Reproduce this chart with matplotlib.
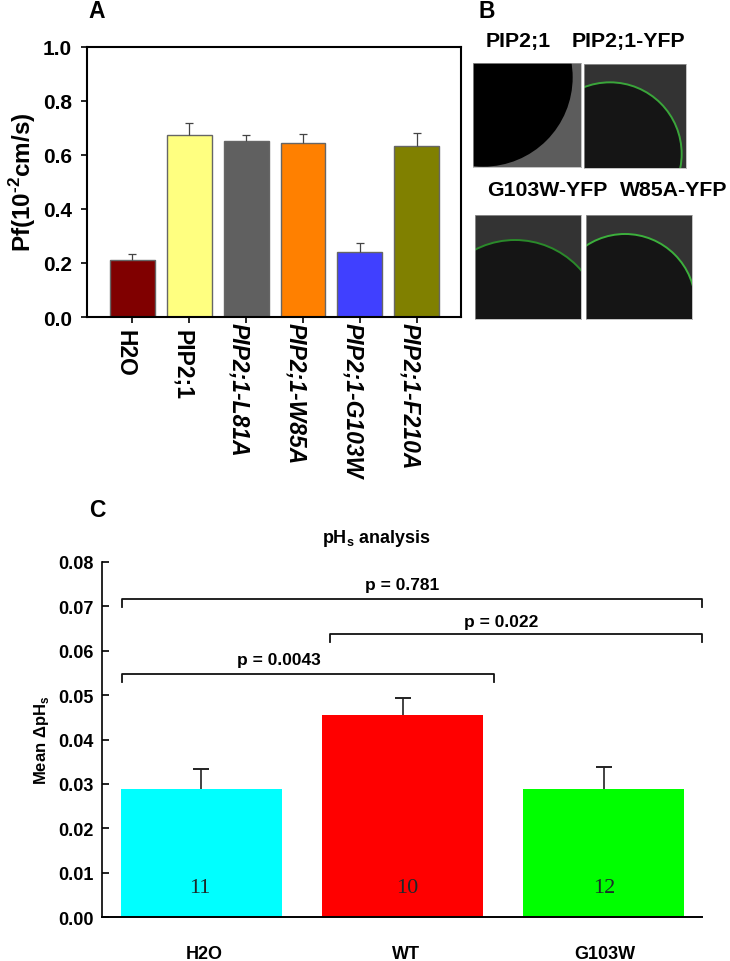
# Panels A, B and C: water permeability bars, YFP micrographs, pHs analysis bars
import matplotlib
matplotlib.use("Agg")
import matplotlib.pyplot as plt
from matplotlib.patches import Circle
from matplotlib.transforms import ScaledTranslation

plt.rcParams['font.family'] = ['Liberation Sans', 'DejaVu Sans']
plt.rcParams['font.weight'] = 'bold'
plt.rcParams['axes.labelweight'] = 'bold'
plt.rcParams['axes.titleweight'] = 'bold'
plt.rcParams['mathtext.fontset'] = 'custom'
plt.rcParams['mathtext.rm'] = 'Liberation Sans:bold'
plt.rcParams['mathtext.bf'] = 'Liberation Sans:bold'

W, H = 730, 962

# Panel A data
a_labels = ["H2O", "PIP2;1", "PIP2;1-L81A", "PIP2;1-W85A", "PIP2;1-G103W", "PIP2;1-F210A"]
a_styles = ["normal", "normal", "italic", "italic", "italic", "italic"]
a_values = [0.212, 0.674, 0.649, 0.643, 0.240, 0.633]
a_errors = [0.021, 0.043, 0.023, 0.032, 0.033, 0.046]
a_colors = ["#800000", "#ffff80", "#606060", "#ff8000", "#4040ff", "#808000"]
a_ticks = [0.0, 0.2, 0.4, 0.6, 0.8, 1.0]

# Panel C data
c_labels = ["H2O", "WT", "G103W"]
c_values = [0.0289, 0.0455, 0.0289]
c_errors = [0.0045, 0.0039, 0.0049]
c_counts = ["11", "10", "12"]
c_colors = ["#00ffff", "#ff0000", "#00ff00"]
c_ticks = [0.00, 0.01, 0.02, 0.03, 0.04, 0.05, 0.06, 0.07, 0.08]

# p value brackets, x in bar positions
p_texts = ["p = 0.781", "p = 0.022", "p = 0.0043"]
p_text_x = [0.9975, 1.49, 0.386]
p_text_y = [0.0748, 0.0665, 0.0579]
p_left = [-0.396, 0.637, -0.396]
p_right = [2.49, 2.49, 1.455]
p_y = [0.0716, 0.0637, 0.0547]


def px_axes(left, top, right, bottom):
    return fig.add_axes([left / W, 1 - bottom / H, (right - left) / W, (bottom - top) / H])


def upper_only(container):
    # errorbar draws a cap at the bar top as well, the source has none
    container.lines[1][0].set_visible(False)


def nudge(label, dx, dy):
    # move a tick label by some pixels
    label.set_transform(label.get_transform() + ScaledTranslation(dx / 100, dy / 100, fig.dpi_scale_trans))


fig = plt.figure(figsize=(W / 100, H / 100), dpi=100)

# Panel A
axA = px_axes(87, 47.5, 461, 318)
xs = range(len(a_values))
axA.bar(xs, a_values, width=0.79, color=a_colors, edgecolor="#666666", linewidth=1)
upper_only(axA.errorbar(xs, a_values, yerr=[[0] * 6, a_errors], fmt="none", ecolor="#444444",
                        elinewidth=0.9, capsize=3, capthick=0.9))
axA.set_xlim(-0.796, 5.777)
axA.set_ylim(0, 1)
axA.set_yticks(a_ticks)
axA.set_yticklabels([f"{t:.1f}" for t in a_ticks], fontsize=15)
axA.set_xticks(list(xs))
axA.set_xticklabels(a_labels, rotation=270, fontsize=16.5, va="top", ha="center")
axA.tick_params(axis="both", width=1.2, length=4)
axA.tick_params(axis="y", pad=7)
axA.tick_params(axis="x", pad=3)
for lab, st in zip(axA.get_xticklabels(), a_styles):
    lab.set_fontstyle(st)
    nudge(lab, -7, 5 if st == "italic" else -2)
for s in axA.spines.values():
    s.set_linewidth(1.5)
axA.set_ylabel(r"Pf(10$^{\text{-}2}$cm/s)", fontsize=17.5, labelpad=3)

# Panel B, drawn in zoomed pixel units of the source
b_boxes = [(473.3, 64, 581, 168), (584.3, 65, 686.3, 168.5),
           (475, 216, 581.3, 320), (585.7, 216, 692.3, 320)]
b_circles = [(70, 235, 268), (450, 465, 215), (165, 985, 262), (495, 916, 211)]
b_back = ["#5c5c5c", "#333333", "#333333", "#333333"]
b_fill = ["#000000", "#151515", "#151515", "#151515"]
b_edge = ["none", "#3aa53a", "#2a8a2a", "#3cb03c"]
for box, circ, bg, fc, ec in zip(b_boxes, b_circles, b_back, b_fill, b_edge):
    axB = px_axes(*box)
    axB.set_xlim((box[0] - 460) * 3, (box[2] - 460) * 3)
    axB.set_ylim(box[3] * 3, box[1] * 3)
    axB.set_facecolor(bg)
    axB.add_patch(Circle(circ[:2], circ[2], facecolor=fc, edgecolor=ec, linewidth=1.4))
    axB.set_xticks([])
    axB.set_yticks([])
    for s in axB.spines.values():
        s.set_color("#aaaaaa")
        s.set_linewidth(0.5)

b_titles = ["PIP2;1", "PIP2;1-YFP", "G103W-YFP", "W85A-YFP"]
b_title_x = [518, 628, 547, 674]
b_title_y = [41, 41, 191, 191]
for t, x, y in zip(b_titles, b_title_x, b_title_y):
    fig.text(x / W, 1 - y / H, t, fontsize=15.3, ha="center", va="center")

# Panel letters
for t, x, y in zip("ABC", [97, 487, 97], [12, 11, 511]):
    fig.text(x / W, 1 - y / H, t, fontsize=16.5, ha="center", va="center")

# Panel C
axC = px_axes(102, 562.7, 702, 918.3)
xs = range(len(c_values))
axC.bar(xs, c_values, width=0.8, color=c_colors)
upper_only(axC.errorbar(xs, c_values, yerr=[[0] * 3, c_errors], fmt="none", ecolor="#222222",
                        elinewidth=1.2, capsize=5.5, capthick=1.4))
axC.set_xlim(-0.495, 2.49)
axC.set_ylim(0, 0.08)
axC.set_yticks(c_ticks)
axC.set_yticklabels([f"{t:.2f}" for t in c_ticks], fontsize=13)
axC.set_xticks(list(xs))
axC.set_xticklabels(c_labels, fontsize=13)
axC.tick_params(axis="y", direction="in", width=1.2, length=5, pad=6)
axC.tick_params(axis="x", length=0, pad=20)
for lab, dx in zip(axC.get_xticklabels(), [3, 4, 1]):
    nudge(lab, dx, 0)
axC.spines["top"].set_visible(False)
axC.spines["right"].set_visible(False)
axC.spines["left"].set_linewidth(1.2)
axC.spines["bottom"].set_linewidth(1.4)
axC.set_ylabel(r"Mean $\Delta$pH$_{\mathrm{s}}$", fontsize=12, labelpad=5)
axC.set_title(r"pH$_{\mathrm{s}}$ analysis", fontsize=13, pad=14, x=0.457)

for x, n in zip([-0.007, 1.025, 2.005], c_counts):
    axC.text(x, 0.0068, n, fontsize=16, family="Liberation Serif", fontweight="normal",
             color="#1c2a2a", ha="center", va="center")

for l, r, y in zip(p_left, p_right, p_y):
    axC.plot([l, l, r, r], [y - 0.0018, y, y, y - 0.0018], color="#111111", lw=1.3,
             clip_on=False, solid_joinstyle="round")
for t, x, y in zip(p_texts, p_text_x, p_text_y):
    axC.text(x, y, t, fontsize=12.5, ha="center", va="center")

fig.savefig("out.png", dpi=100)
